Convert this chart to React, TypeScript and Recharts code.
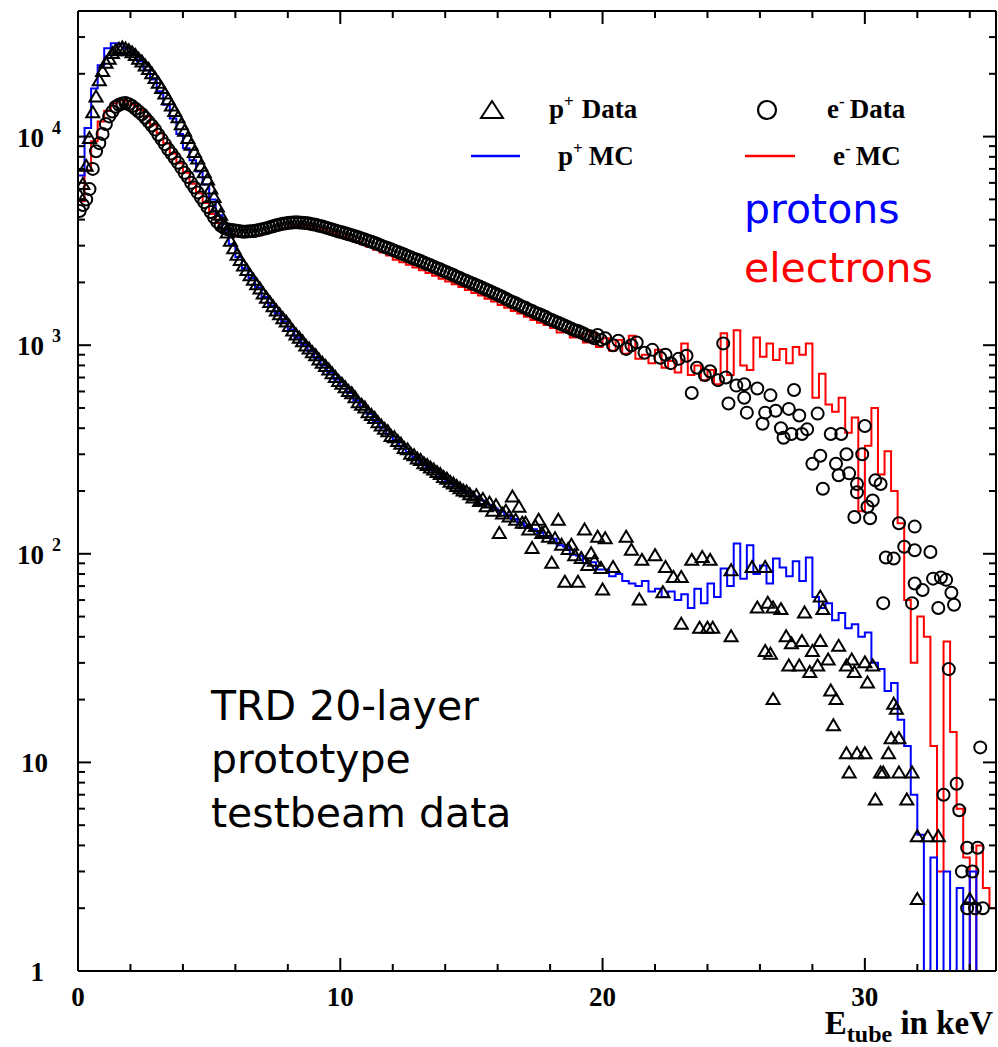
import React from 'react';
import { ComposedChart, Line, Scatter, XAxis, YAxis } from 'recharts';

const W = 998;
const H = 1047;
const SERIF = '"Liberation Serif", "Times New Roman", serif';
const SANS = '"DejaVu Sans", Verdana, sans-serif';

// histogram binning (keV)
const MC_BIN_WIDTH = 0.25;
const DATA_BIN_WIDTH = 0.125;
const X_DOMAIN: [number, number] = [0, 35];
const Y_DOMAIN: [number, number] = [1, 40000];

const xTicks = [0, 2, 4, 6, 8, 10, 12, 14, 16, 18, 20, 22, 24, 26, 28, 30, 32, 34];
const xMajorTicks = [0, 10, 20, 30];
const yTicks = [
  1, 2, 3, 4, 5, 6, 7, 8, 9,
  10, 20, 30, 40, 50, 60, 70, 80, 90,
  100, 200, 300, 400, 500, 600, 700, 800, 900,
  1000, 2000, 3000, 4000, 5000, 6000, 7000, 8000, 9000,
  10000, 20000, 30000,
];
const yDecadeLabels = [1, 10, 100, 1000, 10000];

// p+ MC histogram, 0.25 keV bins from 0 to 35 keV
const protonMC = [
  6500, 11000, 17000, 22000, 26500, 28000, 27800, 26500, 25000, 23000,
  20800, 18800, 16500, 14200, 12200, 10300, 8800, 7700, 6800, 5900,
  5000, 4200, 3550, 3050, 2650, 2330, 2100, 1890, 1700, 1550,
  1420, 1300, 1190, 1090, 1010, 935, 865, 800, 740, 685,
  635, 590, 545, 505, 468, 433, 402, 375, 350, 327,
  307, 290, 275, 262, 248, 236, 225, 214, 205, 196,
  188, 180, 172, 165, 159, 153, 147, 141, 136, 131,
  126, 121, 118, 110, 108, 99, 98, 90, 91, 84,
  84, 78, 80, 74, 72, 70, 74, 66, 68, 62,
  66, 60, 64, 55, 68, 58, 72, 62, 85, 70,
  112, 76, 110, 80, 88, 72, 95, 86, 78, 92,
  74, 96, 62, 55, 58, 48, 52, 44, 46, 40,
  42, 30, 28, 22, 24, 16, 12, 7, 4.5, 1,
  3.5, 1, 3, 1, 2.5, 1, 3, 1, 1, 1,
];

// e- MC histogram, 0.25 keV bins from 0 to 35 keV
const electronMC = [
  4900, 6900, 9500, 11800, 13300, 14400, 14900, 14800, 14200, 13400,
  12500, 11400, 10400, 9300, 8300, 7450, 6700, 5950, 5350, 4800,
  4250, 3850, 3550, 3400, 3320, 3300, 3310, 3360, 3420, 3500,
  3580, 3650, 3700, 3740, 3750, 3730, 3680, 3600, 3500, 3420,
  3320, 3230, 3140, 3050, 2960, 2870, 2780, 2690, 2570, 2500,
  2430, 2360, 2290, 2220, 2150, 2080, 2020, 1960, 1900, 1840,
  1780, 1730, 1670, 1620, 1560, 1510, 1460, 1420, 1370, 1320,
  1280, 1250, 1210, 1150, 1180, 1090, 1120, 1030, 1150, 980,
  1080, 940, 1060, 910, 1110, 860, 900, 820, 950, 780,
  840, 740, 1020, 720, 800, 680, 760, 650, 1140, 720,
  1180, 800, 760, 1090, 880, 1020, 850, 960, 820, 980,
  900, 1020, 560, 730, 520, 480, 560, 380, 450, 160,
  330, 500, 240, 310, 200, 140, 60, 30, 50, 40,
  12, 3, 38, 14, 6, 3.5, 1, 4, 2.5, 2,
];

// p+ data at 0.125 keV bin centres, 0 - 20 keV
const protonDataDense = [
  5200, 5900, 7200, 9800, 13000, 15500, 18500, 20500, 22500, 23500,
  25000, 25800, 26200, 26600, 26300, 25800, 25200, 24500, 23500, 22800,
  21800, 21000, 20000, 19000, 18000, 17000, 16000, 15000, 14000, 13200,
  12300, 11400, 10600, 9800, 9100, 8400, 7800, 7200, 6700, 6200,
  5600, 5100, 4600, 4200, 3800, 3450, 3150, 2900, 2700, 2550,
  2400, 2280, 2150, 2050, 1950, 1860, 1760, 1680, 1600, 1530,
  1460, 1400, 1340, 1290, 1230, 1170, 1120, 1080, 1040, 990,
  960, 920, 890, 850, 820, 790, 760, 730, 700, 670,
  650, 625, 600, 585, 560, 530, 515, 500, 475, 460,
  445, 425, 410, 395, 385, 365, 360, 345, 335, 320,
  315, 300, 295, 285, 280, 270, 265, 258, 252, 245,
  240, 232, 228, 220, 216, 210, 205, 200, 198, 192,
  185, 190, 178, 182, 168, 175, 160, 170, 125, 155,
  160, 150, 187, 145, 167, 140, 140, 130, 106, 135,
  145, 125, 128, 120, 90, 118, 145, 110, 73, 105,
  110, 98, 73, 95, 130, 88, 100, 92, 120, 85,
];
// p+ data above 20 keV
const protonTailE = [
  20.1, 20.0, 20.4, 20.9, 21.1, 21.4, 21.5, 22.0, 22.3, 22.4, 22.7, 23.0, 23.0, 23.4, 23.7, 23.8,
  24.0, 24.1, 24.2, 24.9, 24.9, 25.7, 25.9, 26.2, 26.2, 26.3, 26.4, 26.5, 26.5, 26.8, 27.0, 27.1,
  27.2, 27.5, 27.6, 27.7, 27.9, 28.0, 28.2, 28.3, 28.3, 28.4, 28.6, 28.7, 28.8, 28.9, 29.0, 29.3,
  29.3, 29.4, 29.5, 29.6, 29.7, 30.0, 30.0, 30.1, 30.3, 30.4, 30.6, 30.7, 30.9, 31.0, 31.1, 31.2,
  31.3, 31.3, 31.6, 31.8, 32.0, 32.0, 32.4, 32.8, 34.0,
];
const protonTailN = [
  118, 67, 86, 120, 104, 60, 93, 98, 65, 86, 77, 77, 46, 93, 44, 96,
  44, 93, 44, 83, 40, 86, 55, 86, 34, 58, 33, 20, 55, 54, 40, 29,
  37, 29, 38, 52, 27, 34, 29, 62, 38, 54, 31, 22, 15, 20, 36, 29,
  11, 8.9, 31, 27, 11, 11, 30, 24, 29, 6.6, 8.9, 8.9, 11, 13, 19, 18,
  13, 8.9, 6.6, 8.9, 4.4, 2.2, 4.4, 4.4, 2.2,
];

// e- data at 0.125 keV bin centres, 0 - 20 keV
const electronDataDense = [
  4400, 4700, 5000, 5600, 7000, 8500, 9300, 10300, 11500, 12500,
  13200, 13900, 14200, 14400, 14500, 14300, 14000, 13600, 13200, 12800,
  12300, 11800, 11300, 10800, 10200, 9700, 9200, 8700, 8300, 7900,
  7500, 7100, 6700, 6400, 6000, 5700, 5400, 5100, 4850, 4600,
  4350, 4100, 3900, 3750, 3650, 3600, 3580, 3560, 3540, 3520,
  3500, 3510, 3520, 3530, 3550, 3580, 3610, 3640, 3680, 3720,
  3760, 3790, 3820, 3840, 3860, 3870, 3880, 3870, 3860, 3850,
  3830, 3800, 3780, 3740, 3710, 3670, 3630, 3590, 3550, 3510,
  3480, 3440, 3400, 3370, 3330, 3290, 3250, 3210, 3170, 3130,
  3090, 3050, 3000, 2960, 2920, 2880, 2840, 2800, 2760, 2720,
  2680, 2640, 2600, 2570, 2530, 2490, 2450, 2420, 2380, 2340,
  2310, 2270, 2240, 2200, 2170, 2130, 2100, 2060, 2030, 2000,
  1970, 1940, 1910, 1880, 1850, 1820, 1790, 1760, 1730, 1700,
  1670, 1640, 1610, 1590, 1560, 1530, 1510, 1480, 1460, 1430,
  1410, 1390, 1370, 1340, 1320, 1300, 1280, 1260, 1240, 1220,
  1200, 1180, 1170, 1150, 1130, 1110, 1100, 1080, 1120, 1060,
];
// e- data above 20 keV
const electronTailE = [
  20.1, 20.4, 20.6, 20.9, 21.1, 21.3, 21.6, 21.9, 22.2, 22.4, 22.6, 22.9, 23.2, 23.4, 23.6, 23.9,
  24.1, 24.4, 24.6, 24.7, 24.8, 25.1, 25.4, 25.4, 25.5, 25.9, 26.1, 26.2, 26.4, 26.6, 26.8, 26.9,
  27.1, 27.2, 27.3, 27.5, 27.6, 27.8, 28.0, 28.2, 28.3, 28.4, 28.7, 28.9, 29.0, 29.1, 29.3, 29.4,
  29.6, 29.7, 29.7, 29.9, 30.0, 30.1, 30.2, 30.3, 30.4, 30.6, 30.7, 30.8, 31.1, 31.3, 31.5, 31.8,
  31.9, 31.9, 31.9, 32.2, 32.5, 32.6, 32.8, 32.9, 33.0, 33.1, 33.2, 33.3, 33.4, 33.5, 33.6, 33.7,
  33.9, 33.9, 34.1, 34.2, 34.3, 34.4, 34.5,
];
const electronTailN = [
  1080, 1000, 1050, 960, 1000, 1030, 920, 950, 870, 900, 820, 860, 890, 590, 780, 720,
  750, 680, 1020, 700, 525, 640, 560, 650, 475, 620, 420, 475, 575, 485, 400, 360,
  495, 375, 610, 460, 375, 395, 270, 470, 295, 205, 375, 270, 238, 375, 300, 243,
  150, 197, 216, 300, 410, 168, 148, 180, 225, 216, 58, 96, 95, 140, 108, 58,
  135, 104, 72, 67, 102, 76, 55, 77, 7, 75, 28, 65, 57, 7.9, 5.9, 3,
  3.9, 2, 3, 2, 3.9, 11.8, 2,
];

type Pt = { x: number; y: number };

const histPoints = (vals: number[]): Pt[] => {
  const pts: Pt[] = [{ x: 0, y: 1 }];
  vals.forEach((v, i) => pts.push({ x: i * MC_BIN_WIDTH, y: v }));
  pts.push({ x: vals.length * MC_BIN_WIDTH, y: vals[vals.length - 1] });
  return pts;
};

const dataPoints = (dense: number[], tailE: number[], tailN: number[]): Pt[] => [
  ...dense.map((v, i) => ({ x: (i + 0.5) * DATA_BIN_WIDTH, y: v })),
  ...tailE.map((e, i) => ({ x: e, y: tailN[i] })),
];

const protonMCPts = histPoints(protonMC);
const electronMCPts = histPoints(electronMC);
const protonDataPts = dataPoints(protonDataDense, protonTailE, protonTailN);
const electronDataPts = dataPoints(electronDataDense, electronTailE, electronTailN);

const TriangleShape = (p: any) => {
  const { cx, cy } = p;
  if (cx == null || cy == null || !isFinite(cx) || !isFinite(cy)) return <g />;
  return (
    <path
      d={`M${cx},${cy - 6.5} L${cx + 6.5},${cy + 4.5} L${cx - 6.5},${cy + 4.5} Z`}
      fill="none"
      stroke="#000"
      strokeWidth={2}
    />
  );
};

const CircleShape = (p: any) => {
  const { cx, cy } = p;
  if (cx == null || cy == null || !isFinite(cx) || !isFinite(cy)) return <g />;
  return <circle cx={cx} cy={cy} r={6} fill="none" stroke="#000" strokeWidth={2} />;
};

const isMajorX = (v: number) => xMajorTicks.includes(v);
const isMajorY = (v: number) => yDecadeLabels.includes(v);

const BottomTick = (props: any) => {
  const { x, y, payload } = props;
  const v = payload.value;
  const major = isMajorX(v);
  return (
    <g>
      <line x1={x} x2={x} y1={y} y2={y - (major ? 13 : 7)} stroke="#000" strokeWidth={2} />
      {major && (
        <text x={x} y={y + 35} textAnchor="middle" fontFamily={SERIF} fontWeight="bold" fontSize={27} fill="#000">
          {v}
        </text>
      )}
    </g>
  );
};

const TopTick = (props: any) => {
  const { x, y, payload } = props;
  const major = isMajorX(payload.value);
  return <line x1={x} x2={x} y1={y} y2={y + (major ? 13 : 7)} stroke="#000" strokeWidth={2} />;
};

const LeftTick = (props: any) => {
  const { x, y, payload } = props;
  const v = payload.value;
  const major = isMajorY(v);
  const exp = Math.round(Math.log10(v));
  return (
    <g>
      <line x1={x} x2={x + (major ? 13 : 7)} y1={y} y2={y} stroke="#000" strokeWidth={2} />
      {major && exp <= 1 && (
        <text x={exp === 0 ? 44 : 48} y={y + 10} textAnchor="end" fontFamily={SERIF} fontWeight="bold" fontSize={27} fill="#000">
          {exp === 0 ? '1' : '10'}
        </text>
      )}
      {major && exp > 1 && (
        <text fontFamily={SERIF} fontWeight="bold" fill="#000">
          <tspan x={44} y={y + 10} textAnchor="end" fontSize={27}>10</tspan>
          <tspan x={52} y={y - 3} fontSize={18}>{exp}</tspan>
        </text>
      )}
    </g>
  );
};

const RightTick = (props: any) => {
  const { x, y, payload } = props;
  const major = isMajorY(payload.value);
  return <line x1={x} x2={x - (major ? 13 : 7)} y1={y} y2={y} stroke="#000" strokeWidth={2} />;
};

const axisLine = { stroke: '#000', strokeWidth: 2 };

export default function App() {
  return (
    <div style={{ position: 'absolute', left: 0, top: 0, width: W, height: H, background: '#fff' }}>
      <ComposedChart width={W} height={H} margin={{ top: 0, right: 0, bottom: 0, left: 0 }}>
        <XAxis
          dataKey="x"
          type="number"
          domain={X_DOMAIN}
          allowDataOverflow
          ticks={xTicks}
          interval={0}
          height={76}
          tickSize={0}
          tickMargin={0}
          tick={<BottomTick />}
          tickLine={false}
          axisLine={axisLine}
        />
        <XAxis
          xAxisId="top"
          orientation="top"
          dataKey="x"
          type="number"
          domain={X_DOMAIN}
          allowDataOverflow
          ticks={xTicks}
          interval={0}
          height={11}
          tickSize={0}
          tickMargin={0}
          tick={<TopTick />}
          tickLine={false}
          axisLine={axisLine}
        />
        <YAxis
          type="number"
          scale="log"
          domain={Y_DOMAIN}
          allowDataOverflow
          ticks={yTicks}
          interval={0}
          width={78}
          tickSize={0}
          tickMargin={0}
          tick={<LeftTick />}
          tickLine={false}
          axisLine={axisLine}
        />
        <YAxis
          yAxisId="right"
          orientation="right"
          type="number"
          scale="log"
          domain={Y_DOMAIN}
          allowDataOverflow
          ticks={yTicks}
          interval={0}
          width={2}
          tickSize={0}
          tickMargin={0}
          tick={<RightTick />}
          tickLine={false}
          axisLine={axisLine}
        />
        <Scatter data={protonDataPts} dataKey="y" shape={TriangleShape} isAnimationActive={false} />
        <Scatter data={electronDataPts} dataKey="y" shape={CircleShape} isAnimationActive={false} />
        <Line
          data={electronMCPts}
          dataKey="y"
          type="stepAfter"
          stroke="#ff0000"
          strokeWidth={2}
          dot={false}
          activeDot={false}
          isAnimationActive={false}
        />
        <Line
          data={protonMCPts}
          dataKey="y"
          type="stepAfter"
          stroke="#0000ff"
          strokeWidth={2}
          dot={false}
          activeDot={false}
          isAnimationActive={false}
        />
      </ComposedChart>
      <svg
        width={W}
        height={H}
        style={{ position: 'absolute', left: 0, top: 0, pointerEvents: 'none' }}
      >
        {/* legend */}
        <path d="M492,101 L503,118 L481,118 Z" fill="none" stroke="#000" strokeWidth={2} />
        <text x={549} y={118} fontFamily={SERIF} fontWeight="bold" fontSize={27} fill="#000">
          <tspan>p</tspan>
          <tspan dy={-11} fontSize={17}>+</tspan>
          <tspan dy={11} dx={8}>Data</tspan>
        </text>
        <circle cx={767} cy={110} r={9} fill="none" stroke="#000" strokeWidth={2.2} />
        <text x={827} y={118} fontFamily={SERIF} fontWeight="bold" fontSize={27} fill="#000">
          <tspan>e</tspan>
          <tspan dy={-11} fontSize={17}>-</tspan>
          <tspan dy={11} dx={5}>Data</tspan>
        </text>
        <line x1={471} x2={520} y1={156} y2={156} stroke="#0000ff" strokeWidth={2.5} />
        <text x={558} y={165} fontFamily={SERIF} fontWeight="bold" fontSize={27} fill="#000">
          <tspan>p</tspan>
          <tspan dy={-11} fontSize={17}>+</tspan>
          <tspan dy={11} dx={6}>MC</tspan>
        </text>
        <line x1={745} x2={795} y1={156} y2={156} stroke="#ff0000" strokeWidth={2.5} />
        <text x={833} y={165} fontFamily={SERIF} fontWeight="bold" fontSize={27} fill="#000">
          <tspan>e</tspan>
          <tspan dy={-11} fontSize={17}>-</tspan>
          <tspan dy={11} dx={5}>MC</tspan>
        </text>

        {/* annotations */}
        <text x={744} y={223} fontFamily={SANS} fontSize={41} fill="#0000ff">protons</text>
        <text x={744} y={282} fontFamily={SANS} fontSize={41} fill="#ff0000">electrons</text>
        <text fontFamily={SANS} fontSize={41} fill="#000">
          <tspan x={211} y={720}>TRD 20-layer</tspan>
          <tspan x={211} y={773}>prototype</tspan>
          <tspan x={211} y={827}>testbeam data</tspan>
        </text>

        {/* x axis title */}
        <text x={993} y={1034} textAnchor="end" fontFamily={SERIF} fontWeight="bold" fontSize={33} fill="#000">
          <tspan>E</tspan>
          <tspan dy={8} fontSize={24}>tube</tspan>
          <tspan dy={-8}> in keV</tspan>
        </text>
      </svg>
    </div>
  );
}
